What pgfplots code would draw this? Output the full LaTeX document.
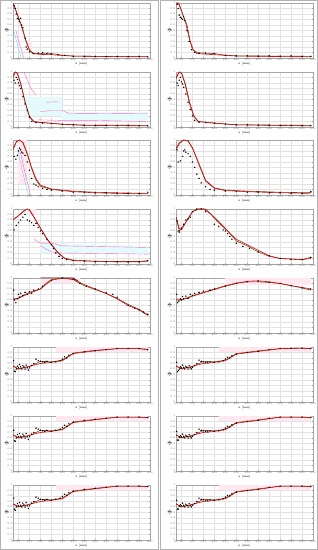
\documentclass[border=0pt]{standalone}
\usepackage{pgfplots}
\pgfplotsset{compat=1.18}
\definecolor{mred}{HTML}{D01010}
\definecolor{mbrown}{HTML}{7A3A1C}
\definecolor{mpink}{HTML}{FF66CC}
\definecolor{mcyan}{HTML}{E4FBFB}
\definecolor{mband}{HTML}{FFE8EF}
\pgfplotsset{
  panel/.style={
    scale only axis, width=137pt, height=55pt, anchor=south west,
    xmin=25, xmax=650, ymin=0, ymax=1,
    xtick={25,50,100,150,200,250,300,350,400,450,500,550,600,650},
    ytick={0,0.1,0.2,0.3,0.4,0.5,0.6,0.7,0.8,0.9,1},
    /pgf/number format/assume math mode=true,
    yticklabel style={/pgf/number format/.cd, fixed, precision=1},
    grid=major, grid style={gray!22, line width=0.25pt},
    axis line style={gray!70, line width=0.3pt},
    major tick length=1pt, tick style={gray!70, line width=0.2pt},
    tick label style={font=\fontsize{2.6}{3}\selectfont, text=gray!70!black, inner sep=0.6pt},
    label style={font=\fontsize{3}{3.5}\selectfont},
    xlabel={z [mm]}, ylabel={$\Phi$},
    xlabel style={yshift=2.5pt}, ylabel style={yshift=-5pt},
    clip=true,
  },
  redl/.style={mred, line width=0.6pt},
  brownl/.style={mbrown, line width=0.6pt},
  pts/.style={only marks, mark=triangle*, mark size=0.55pt, black},
  pkl/.style={mpink, line width=0.4pt},
  cyl/.style={cyan!60, line width=0.4pt},
}
\begin{document}
\begin{tikzpicture}
\path[use as bounding box] (0pt,0pt) rectangle (318pt,550pt);
\draw[gray!60, line width=0.5pt] (0.5pt,0.5pt) rectangle (158pt,549.5pt);
\draw[gray!60, line width=0.5pt] (160.5pt,0.5pt) rectangle (317.5pt,549.5pt);
% ---------------- Row 1 ----------------
\begin{axis}[panel, at={(13pt,492pt)}]
\addplot[fill=mband, draw=none] coordinates {(85,0.3)(110,0.3)(110,0.12)(85,0.12)} -- cycle;
\addplot[cyl] coordinates {(30,0.48)(45,0.25)(62,0)};
\addplot[pkl] coordinates {(38,0.5)(55,0.25)(75,0)};
\addplot[brownl] coordinates {(25,1.0)(40,0.84)(55,0.68)(70,0.52)(85,0.3)(100,0.14)(120,0.08)(150,0.08)(180,0.09)(220,0.07)(250,0.05)(300,0.035)(400,0.03)(640,0.03)};
\addplot[redl] coordinates {(25,1.0)(40,0.85)(60,0.62)(80,0.36)(100,0.15)(115,0.08)(150,0.065)(200,0.06)(250,0.045)(300,0.035)(400,0.03)(500,0.025)(640,0.02)};
\addplot[pts] coordinates {(30,0.95)(35,0.9)(40,0.8)(45,0.72)(50,0.7)(55,0.66)(60,0.72)(65,0.6)(70,0.55)(80,0.36)(85,0.2)(90,0.16)(100,0.11)(120,0.08)(140,0.09)(160,0.1)(180,0.08)(200,0.07)(230,0.06)(260,0.045)(300,0.03)(350,0.03)(400,0.03)(450,0.025)(500,0.03)(550,0.025)(600,0.03)(640,0.02)};
\end{axis}
\begin{axis}[panel, at={(176pt,492pt)}]
\addplot[brownl] coordinates {(25,1.0)(40,0.98)(55,0.8)(75,0.6)(90,0.3)(105,0.14)(125,0.09)(160,0.09)(200,0.08)(250,0.05)(300,0.04)(640,0.03)};
\addplot[redl] coordinates {(25,1.0)(35,1.0)(50,0.86)(70,0.62)(85,0.36)(100,0.16)(120,0.08)(200,0.06)(300,0.035)(640,0.02)};
\addplot[pts] coordinates {(30,0.97)(35,0.9)(40,0.78)(45,0.74)(50,0.72)(55,0.7)(60,0.75)(65,0.68)(75,0.5)(85,0.3)(95,0.15)(110,0.1)(130,0.09)(160,0.09)(200,0.08)(250,0.05)(300,0.04)(350,0.04)(400,0.035)(450,0.04)(500,0.035)(550,0.04)(600,0.03)(640,0.03)};
\end{axis}
% ---------------- Row 2 ----------------
\begin{axis}[panel, at={(13pt,423pt)}]
\addplot[fill=mcyan, draw=none] coordinates {(75,0.2)(75,0.55)(250,0.55)(250,0.2)} -- cycle;
\addplot[fill=mcyan, draw=none] coordinates {(250,0.12)(250,0.27)(640,0.27)(640,0.12)} -- cycle;
\addplot[pkl] coordinates {(75,1.0)(90,0.85)(110,0.68)(130,0.58)};
\addplot[pkl] coordinates {(175,0.45)(230,0.46)};
\addplot[pkl] coordinates {(150,0.28)(200,0.3)(250,0.3)(280,0.25)(640,0.24)};
\addplot[pkl] coordinates {(140,0.13)(250,0.12)(400,0.12)(640,0.1)};
\addplot[brownl] coordinates {(25,0.92)(35,1.0)(45,0.97)(60,0.78)(80,0.45)(100,0.18)(120,0.09)(160,0.08)(250,0.05)(350,0.035)(640,0.03)};
\addplot[redl] coordinates {(25,0.9)(35,1.0)(45,0.98)(60,0.8)(80,0.46)(100,0.2)(120,0.1)(160,0.08)(250,0.05)(350,0.03)(640,0.02)};
\addplot[pts] coordinates {(30,0.85)(35,0.8)(40,0.9)(45,0.86)(50,0.8)(55,0.75)(60,0.7)(70,0.55)(80,0.42)(90,0.3)(100,0.18)(110,0.1)(130,0.08)(160,0.07)(200,0.06)(250,0.05)(300,0.04)(350,0.035)(400,0.03)(450,0.03)(500,0.025)(550,0.03)(600,0.025)(640,0.02)};
\end{axis}
\begin{axis}[panel, at={(176pt,423pt)}]
\addplot[brownl] coordinates {(25,0.88)(40,1.0)(52,0.97)(68,0.78)(88,0.44)(108,0.19)(128,0.1)(200,0.07)(300,0.04)(640,0.03)};
\addplot[redl] coordinates {(25,0.9)(40,1.0)(50,0.98)(65,0.8)(85,0.45)(105,0.2)(125,0.1)(200,0.07)(300,0.04)(640,0.02)};
\addplot[pts] coordinates {(30,0.8)(35,0.75)(40,0.85)(45,0.9)(50,0.82)(55,0.78)(60,0.72)(70,0.6)(80,0.45)(90,0.32)(100,0.2)(110,0.12)(130,0.09)(160,0.08)(200,0.07)(250,0.05)(300,0.04)(350,0.04)(400,0.035)(450,0.03)(500,0.03)(550,0.03)(600,0.025)(640,0.025)};
\end{axis}
% ---------------- Row 3 ----------------
\begin{axis}[panel, at={(13pt,355pt)}]
\addplot[fill=mband, draw=none] coordinates {(50,0.2)(50,1)(90,1)(90,0.2)} -- cycle;
\addplot[cyl] coordinates {(45,0.85)(70,0.4)(95,0)};
\addplot[pkl] coordinates {(55,0.85)(80,0.4)(105,0)};
\addplot[brownl] coordinates {(25,0.82)(40,0.96)(55,1.0)(70,0.96)(90,0.76)(110,0.5)(130,0.3)(150,0.18)(200,0.11)(250,0.09)(300,0.07)(400,0.05)(500,0.04)(640,0.03)};
\addplot[redl] coordinates {(25,0.85)(40,0.97)(55,1.0)(70,0.95)(90,0.74)(110,0.48)(130,0.27)(150,0.16)(200,0.1)(250,0.08)(300,0.06)(400,0.04)(500,0.03)(640,0.02)};
\addplot[pts] coordinates {(30,0.7)(38,0.65)(45,0.72)(50,0.8)(55,0.85)(60,0.82)(65,0.78)(70,0.76)(80,0.72)(90,0.6)(100,0.45)(110,0.3)(120,0.2)(130,0.18)(140,0.15)(160,0.12)(180,0.1)(200,0.09)(250,0.07)(300,0.05)(350,0.05)(400,0.04)(450,0.04)(500,0.035)(550,0.03)(600,0.03)(640,0.05)};
\end{axis}
\begin{axis}[panel, at={(176pt,355pt)}]
\addplot[brownl] coordinates {(25,0.82)(40,0.93)(60,1.0)(80,0.99)(100,0.86)(130,0.57)(160,0.27)(200,0.13)(250,0.09)(350,0.07)(500,0.05)(640,0.04)};
\addplot[redl] coordinates {(25,0.85)(40,0.95)(60,1.0)(80,0.98)(100,0.85)(130,0.55)(160,0.25)(200,0.12)(250,0.08)(350,0.06)(500,0.04)(630,0.03)(645,0.06)};
\addplot[pts] coordinates {(30,0.82)(35,0.6)(45,0.62)(55,0.7)(60,0.8)(65,0.82)(70,0.78)(80,0.75)(90,0.7)(100,0.6)(110,0.5)(120,0.38)(130,0.3)(140,0.22)(160,0.15)(180,0.1)(200,0.09)(250,0.07)(300,0.06)(350,0.05)(400,0.05)(450,0.04)(500,0.04)(550,0.035)(600,0.03)(640,0.06)};
\end{axis}
% ---------------- Row 4 ----------------
\begin{axis}[panel, at={(13pt,286pt)}]
\addplot[fill=mcyan, draw=none] coordinates {(150,0.2)(150,0.38)(640,0.33)(640,0.18)} -- cycle;
\addplot[fill=mband, draw=none] coordinates {(90,0.9)(90,1)(130,1)(130,0.9)} -- cycle;
\addplot[pkl] coordinates {(120,0.45)(150,0.38)(200,0.38)(250,0.33)(640,0.3)};
\addplot[pkl] coordinates {(150,0.33)(200,0.22)(250,0.2)(640,0.18)};
\addplot[brownl] coordinates {(25,0.8)(50,0.88)(75,0.97)(90,1.0)(100,0.99)(120,0.86)(150,0.66)(180,0.46)(200,0.36)(230,0.21)(260,0.11)(300,0.07)(400,0.05)(500,0.045)(600,0.045)(640,0.06)};
\addplot[redl] coordinates {(25,0.8)(50,0.88)(75,0.96)(90,1.0)(100,0.98)(120,0.85)(150,0.65)(180,0.45)(200,0.35)(230,0.2)(260,0.1)(300,0.06)(400,0.05)(500,0.04)(600,0.04)(640,0.05)};
\addplot[pts] coordinates {(30,0.62)(40,0.7)(50,0.75)(60,0.8)(70,0.85)(80,0.9)(90,0.8)(100,0.78)(110,0.75)(120,0.7)(130,0.74)(140,0.66)(150,0.6)(160,0.55)(180,0.45)(200,0.35)(210,0.28)(220,0.2)(235,0.14)(250,0.1)(270,0.08)(300,0.06)(350,0.05)(400,0.04)(450,0.04)(500,0.04)(550,0.035)(600,0.04)(640,0.06)};
\end{axis}
\begin{axis}[panel, at={(176pt,286pt)}]
\addplot[brownl] coordinates {(25,0.85)(40,0.6)(60,0.7)(80,0.82)(100,0.95)(120,1.0)(160,1.0)(200,0.85)(250,0.65)(300,0.42)(350,0.33)(400,0.22)(450,0.14)(500,0.1)(600,0.08)(640,0.12)};
\addplot[redl] coordinates {(25,0.85)(40,0.65)(50,0.62)(75,0.8)(100,0.95)(130,1.0)(150,1.0)(180,0.92)(220,0.75)(260,0.6)(300,0.45)(350,0.35)(400,0.25)(450,0.15)(500,0.1)(600,0.08)(640,0.1)};
\addplot[pts] coordinates {(30,0.78)(35,0.6)(40,0.58)(50,0.65)(60,0.72)(70,0.8)(80,0.82)(90,0.85)(100,0.95)(120,1.0)(140,1.0)(160,0.95)(200,0.72)(220,0.68)(240,0.62)(250,0.6)(260,0.55)(270,0.5)(280,0.45)(300,0.38)(330,0.32)(360,0.28)(400,0.22)(450,0.15)(500,0.1)(550,0.08)(600,0.08)(640,0.12)};
\end{axis}
% ---------------- Row 5 ----------------
\begin{axis}[panel, at={(13pt,217pt)}]
\addplot[fill=mband, draw=none] coordinates {(150,0.9)(150,1)(330,1)(330,0.9)} -- cycle;
\addplot[black, line width=0.6pt] coordinates {(150,1.0)(300,1.0)(320,0.95)};
\addplot[brownl] coordinates {(25,0.6)(50,0.64)(75,0.69)(100,0.74)(150,0.8)(175,0.88)(200,0.96)(250,1.0)(300,0.97)(350,0.86)(400,0.79)(450,0.72)(500,0.63)(550,0.52)(600,0.43)(640,0.33)};
\addplot[redl] coordinates {(25,0.62)(50,0.63)(75,0.68)(100,0.72)(150,0.8)(175,0.9)(200,0.97)(250,1.0)(300,0.98)(350,0.88)(400,0.8)(450,0.72)(500,0.62)(550,0.5)(600,0.42)(640,0.32)};
\addplot[pts] coordinates {(28,0.78)(32,0.6)(38,0.55)(45,0.62)(50,0.7)(55,0.65)(60,0.72)(70,0.68)(80,0.74)(90,0.7)(100,0.75)(110,0.72)(120,0.78)(140,0.8)(160,0.85)(200,0.95)(250,1.0)(300,0.98)(330,0.9)(360,0.85)(400,0.8)(450,0.73)(480,0.7)(500,0.65)(550,0.5)(580,0.45)(600,0.42)(620,0.38)(640,0.34)};
\end{axis}
\begin{axis}[panel, at={(176pt,217pt)}]
\addplot[fill=mband, draw=none] coordinates {(250,0.88)(250,1)(640,1)(640,0.88)} -- cycle;
\addplot[brownl] coordinates {(25,0.6)(50,0.6)(75,0.64)(100,0.68)(150,0.74)(200,0.8)(250,0.86)(300,0.91)(350,0.93)(400,0.93)(450,0.92)(500,0.9)(550,0.86)(600,0.82)(640,0.78)};
\addplot[redl] coordinates {(25,0.62)(50,0.61)(75,0.63)(100,0.67)(150,0.73)(200,0.79)(250,0.85)(300,0.9)(350,0.94)(400,0.95)(450,0.93)(500,0.9)(550,0.86)(600,0.83)(640,0.8)};
\addplot[pts] coordinates {(28,0.7)(32,0.55)(38,0.58)(45,0.62)(50,0.6)(55,0.66)(60,0.62)(70,0.67)(80,0.63)(90,0.7)(100,0.68)(110,0.72)(130,0.74)(150,0.76)(180,0.78)(200,0.8)(250,0.85)(300,0.9)(350,0.93)(400,0.94)(450,0.92)(500,0.9)(550,0.86)(600,0.82)(640,0.8)};
\end{axis}
% ---------------- Row 6 ----------------
\begin{axis}[panel, at={(13pt,148pt)}]
\addplot[fill=mband, draw=none] coordinates {(220,0.9)(220,1)(640,1)(640,0.9)} -- cycle;
\addplot[brownl] coordinates {(25,0.66)(50,0.6)(75,0.63)(100,0.64)(130,0.7)(150,0.74)(200,0.73)(250,0.76)(300,0.89)(400,0.94)(500,0.97)(600,0.97)(640,0.95)};
\addplot[redl] coordinates {(25,0.65)(50,0.6)(75,0.62)(100,0.65)(150,0.7)(200,0.72)(250,0.75)(300,0.88)(400,0.93)(500,0.97)(600,0.97)(640,0.96)};
\addplot[pts] coordinates {(28,0.75)(32,0.56)(36,0.55)(40,0.6)(45,0.65)(50,0.62)(55,0.68)(60,0.64)(65,0.6)(70,0.66)(75,0.64)(80,0.6)(85,0.67)(90,0.62)(95,0.58)(100,0.62)(110,0.66)(120,0.7)(130,0.78)(140,0.75)(150,0.74)(160,0.73)(170,0.72)(180,0.74)(200,0.72)(220,0.73)(240,0.75)(250,0.78)(260,0.82)(270,0.8)(280,0.85)(300,0.88)(350,0.91)(400,0.93)(450,0.95)(500,0.97)(550,0.97)(600,0.97)(640,0.95)};
\end{axis}
\begin{axis}[panel, at={(176pt,148pt)}]
\addplot[fill=mband, draw=none] coordinates {(220,0.9)(220,1)(640,1)(640,0.9)} -- cycle;
\addplot[brownl] coordinates {(25,0.66)(50,0.6)(75,0.63)(100,0.64)(130,0.7)(150,0.74)(200,0.73)(250,0.76)(300,0.88)(400,0.93)(500,0.97)(600,0.98)(640,0.97)};
\addplot[redl] coordinates {(25,0.65)(50,0.61)(75,0.62)(100,0.65)(150,0.7)(200,0.72)(250,0.75)(300,0.87)(400,0.92)(500,0.97)(600,0.98)(640,0.97)};
\addplot[pts] coordinates {(28,0.72)(32,0.55)(36,0.57)(40,0.6)(45,0.64)(50,0.62)(55,0.67)(60,0.63)(65,0.6)(70,0.65)(75,0.63)(80,0.6)(85,0.66)(90,0.62)(95,0.6)(100,0.63)(110,0.66)(120,0.7)(130,0.76)(140,0.74)(150,0.73)(160,0.72)(170,0.71)(180,0.73)(200,0.72)(220,0.73)(240,0.75)(250,0.78)(260,0.81)(270,0.8)(280,0.84)(300,0.87)(350,0.9)(400,0.92)(450,0.95)(500,0.97)(550,0.98)(600,0.98)(640,0.97)};
\end{axis}
% ---------------- Row 7 ----------------
\begin{axis}[panel, at={(13pt,79pt)}]
\addplot[fill=mband, draw=none] coordinates {(220,0.9)(220,1)(640,1)(640,0.9)} -- cycle;
\addplot[brownl] coordinates {(25,0.66)(50,0.61)(75,0.63)(100,0.64)(130,0.7)(150,0.74)(200,0.73)(250,0.76)(300,0.89)(400,0.94)(500,0.98)(600,0.98)(640,0.97)};
\addplot[redl] coordinates {(25,0.65)(50,0.6)(75,0.62)(100,0.65)(150,0.7)(200,0.72)(250,0.75)(300,0.88)(400,0.93)(500,0.98)(600,0.98)(640,0.97)};
\addplot[pts] coordinates {(28,0.74)(32,0.55)(36,0.54)(40,0.6)(45,0.66)(50,0.62)(55,0.68)(60,0.63)(65,0.6)(70,0.67)(75,0.64)(80,0.6)(85,0.68)(90,0.62)(95,0.57)(100,0.62)(110,0.67)(120,0.7)(130,0.78)(140,0.76)(150,0.74)(160,0.73)(170,0.72)(180,0.74)(200,0.72)(220,0.74)(240,0.76)(250,0.79)(260,0.83)(270,0.81)(280,0.86)(300,0.89)(350,0.92)(400,0.94)(450,0.96)(500,0.98)(550,0.98)(600,0.98)(640,0.97)};
\end{axis}
\begin{axis}[panel, at={(176pt,79pt)}]
\addplot[fill=mband, draw=none] coordinates {(220,0.9)(220,1)(640,1)(640,0.9)} -- cycle;
\addplot[brownl] coordinates {(25,0.66)(50,0.6)(75,0.63)(100,0.64)(130,0.7)(150,0.74)(200,0.73)(250,0.76)(300,0.88)(400,0.93)(500,0.98)(600,0.98)(640,0.97)};
\addplot[redl] coordinates {(25,0.65)(50,0.61)(75,0.62)(100,0.65)(150,0.7)(200,0.72)(250,0.75)(300,0.87)(400,0.92)(500,0.98)(600,0.98)(640,0.97)};
\addplot[pts] coordinates {(28,0.72)(32,0.56)(36,0.56)(40,0.61)(45,0.64)(50,0.62)(55,0.67)(60,0.63)(65,0.6)(70,0.65)(75,0.63)(80,0.6)(85,0.66)(90,0.62)(95,0.6)(100,0.63)(110,0.66)(120,0.7)(130,0.76)(140,0.74)(150,0.73)(160,0.72)(170,0.71)(180,0.73)(200,0.72)(220,0.73)(240,0.75)(250,0.78)(260,0.81)(270,0.8)(280,0.84)(300,0.87)(350,0.9)(400,0.92)(450,0.96)(500,0.98)(550,0.98)(600,0.98)(640,0.97)};
\end{axis}
% ---------------- Row 8 ----------------
\begin{axis}[panel, at={(13pt,10pt)}]
\addplot[fill=mband, draw=none] coordinates {(220,0.9)(220,1)(640,1)(640,0.9)} -- cycle;
\addplot[brownl] coordinates {(25,0.66)(50,0.61)(75,0.63)(100,0.64)(130,0.7)(150,0.74)(200,0.73)(250,0.76)(300,0.89)(400,0.94)(500,0.98)(600,0.98)(640,0.97)};
\addplot[redl] coordinates {(25,0.65)(50,0.6)(75,0.62)(100,0.65)(150,0.7)(200,0.72)(250,0.75)(300,0.88)(400,0.93)(500,0.98)(600,0.98)(640,0.97)};
\addplot[pts] coordinates {(28,0.76)(32,0.56)(36,0.54)(40,0.6)(45,0.66)(50,0.62)(55,0.68)(60,0.63)(65,0.6)(70,0.67)(75,0.64)(80,0.6)(85,0.68)(90,0.62)(95,0.57)(100,0.62)(110,0.67)(120,0.7)(130,0.78)(140,0.76)(150,0.74)(160,0.73)(170,0.72)(180,0.74)(200,0.72)(220,0.74)(240,0.76)(250,0.79)(260,0.83)(270,0.81)(280,0.86)(300,0.89)(350,0.92)(400,0.94)(450,0.96)(500,0.98)(550,0.98)(600,0.98)(640,0.97)};
\end{axis}
\begin{axis}[panel, at={(176pt,10pt)}]
\addplot[fill=mband, draw=none] coordinates {(220,0.9)(220,1)(640,1)(640,0.9)} -- cycle;
\addplot[brownl] coordinates {(25,0.66)(50,0.6)(75,0.63)(100,0.64)(130,0.7)(150,0.74)(200,0.73)(250,0.76)(300,0.88)(400,0.93)(500,0.98)(600,0.98)(640,0.97)};
\addplot[redl] coordinates {(25,0.65)(50,0.61)(75,0.62)(100,0.65)(150,0.7)(200,0.72)(250,0.75)(300,0.87)(400,0.92)(500,0.98)(600,0.98)(640,0.97)};
\addplot[pts] coordinates {(28,0.72)(32,0.56)(36,0.56)(40,0.61)(45,0.64)(50,0.62)(55,0.67)(60,0.63)(65,0.6)(70,0.65)(75,0.63)(80,0.6)(85,0.66)(90,0.62)(95,0.6)(100,0.63)(110,0.66)(120,0.7)(130,0.76)(140,0.74)(150,0.73)(160,0.72)(170,0.71)(180,0.73)(200,0.72)(220,0.73)(240,0.75)(250,0.78)(260,0.81)(270,0.8)(280,0.84)(300,0.87)(350,0.9)(400,0.92)(450,0.96)(500,0.98)(550,0.98)(600,0.98)(640,0.97)};
\end{axis}
\end{tikzpicture}
\end{document}
